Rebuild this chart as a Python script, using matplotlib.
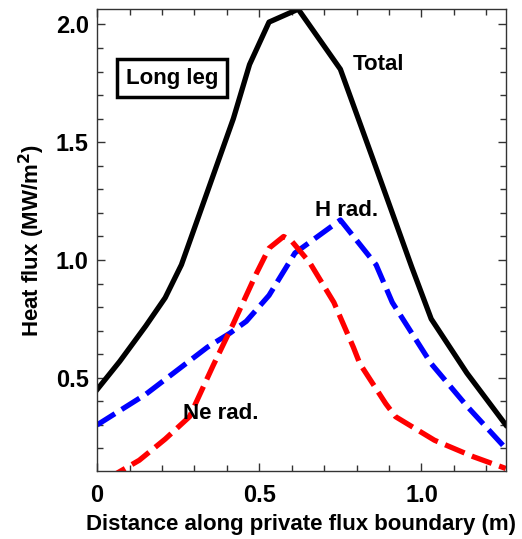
import matplotlib
matplotlib.use("Agg")
import matplotlib.pyplot as plt
from matplotlib.ticker import MultipleLocator, FixedLocator

plt.rcParams['font.family'] = ['Liberation Sans', 'DejaVu Sans']

total_x = [0.0, 0.07, 0.15, 0.21, 0.26, 0.42, 0.47, 0.53, 0.62, 0.75, 0.85, 0.97, 1.03, 1.14, 1.26]
total_y = [0.45, 0.57, 0.72, 0.84, 0.98, 1.60, 1.83, 2.01, 2.065, 1.81, 1.43, 0.97, 0.75, 0.52, 0.30]

h_x = [0.0, 0.15, 0.34, 0.41, 0.46, 0.53, 0.61, 0.75, 0.86, 0.91, 1.03, 1.14, 1.26]
h_y = [0.30, 0.43, 0.63, 0.69, 0.74, 0.85, 1.03, 1.17, 0.98, 0.82, 0.56, 0.38, 0.20]

ne_x = [0.03, 0.13, 0.21, 0.285, 0.357, 0.42, 0.49, 0.53, 0.575, 0.60, 0.655, 0.73, 0.79, 0.81, 0.89, 0.92, 1.04, 1.16, 1.26]
ne_y = [0.07, 0.15, 0.24, 0.335, 0.55, 0.73, 0.94, 1.05, 1.10, 1.08, 0.99, 0.82, 0.63, 0.56, 0.39, 0.335, 0.235, 0.165, 0.115]

fig = plt.figure(figsize=(5.22, 5.39), dpi=100)
ax = fig.add_axes([0.186, 0.126, 0.783, 0.857])

ax.plot(total_x, total_y, color='black', lw=3.8)
ax.plot(h_x, h_y, color='#0000ff', lw=3.8, dashes=(4, 1.5))
ax.plot(ne_x, ne_y, color='#ff0000', lw=3.8, dashes=(4, 1.5))

ax.set_xlim(0, 1.26)
ax.set_ylim(0.104, 2.065)

ax.xaxis.set_major_locator(FixedLocator([0, 0.5, 1.0]))
ax.set_xticklabels(['0', '0.5', '1.0'])
ax.xaxis.set_minor_locator(MultipleLocator(0.1))
ax.yaxis.set_major_locator(FixedLocator([0.5, 1.0, 1.5, 2.0]))
ax.set_yticklabels(['0.5', '1.0', '1.5', '2.0'])
ax.yaxis.set_minor_locator(MultipleLocator(0.1))

ax.tick_params(which='both', direction='in', top=True, right=True, color='#333333')
ax.tick_params(which='major', length=6, width=1, labelsize=17)
ax.tick_params(axis='x', which='major', pad=9)
ax.tick_params(axis='y', which='major', pad=6)
ax.tick_params(which='minor', length=4, width=1)
for lab in ax.get_xticklabels() + ax.get_yticklabels():
    lab.set_fontweight('bold')
for s in ax.spines.values():
    s.set_linewidth(1.0)
    s.set_color('#333333')

ax.set_xlabel('Distance along private flux boundary (m)', fontsize=16, fontweight='bold', labelpad=5)
ax.set_ylabel('Heat flux (MW/m$^\\mathbf{2}$)', fontsize=16, fontweight='bold', labelpad=6)

ax.text(0.787, 1.828, 'Total', fontsize=16, fontweight='bold', ha='left', va='center')
ax.text(0.671, 1.212, 'H rad.', fontsize=16, fontweight='bold', ha='left', va='center')
ax.text(0.264, 0.349, 'Ne rad.', fontsize=16, fontweight='bold', ha='left', va='center')
ax.text(0.231, 1.772, 'Long leg', fontsize=16, fontweight='bold', ha='center', va='center',
        bbox=dict(boxstyle='square,pad=0.38', fc='white', ec='black', lw=2.5))

fig.savefig('out.png', dpi=100)
